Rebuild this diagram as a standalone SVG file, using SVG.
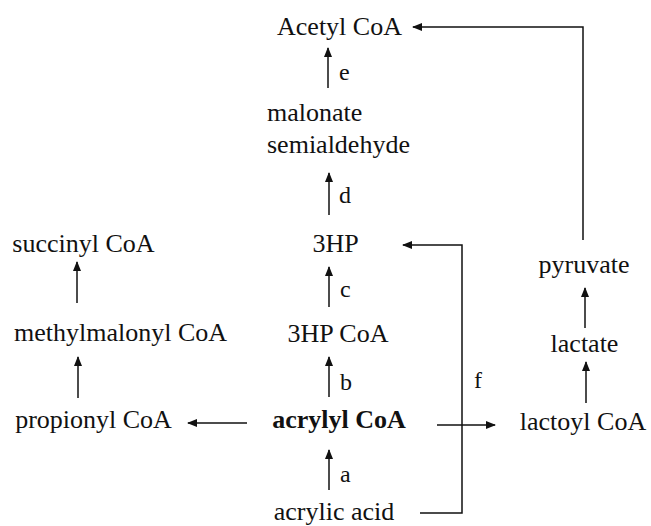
<svg xmlns="http://www.w3.org/2000/svg" width="651" height="526" viewBox="0 0 651 526">
<style>
.t{font-family:"Liberation Serif","Times New Roman",serif;font-size:26px;fill:#111;text-anchor:middle}
.b{font-weight:bold}
.l{font-family:"Liberation Serif","Times New Roman",serif;font-size:24px;fill:#111}
.c{fill:none;stroke:#111;stroke-width:1.5}
.a{marker-end:url(#ah)}
</style>
<defs>
<marker id="ah" viewBox="0 0 10 8" refX="9" refY="4" markerWidth="10" markerHeight="8" markerUnits="userSpaceOnUse" orient="auto">
<path d="M0,0 L10,4 L0,8 Z" fill="#111"/>
</marker>
</defs>
<rect width="651" height="526" fill="#fff"/>
<g id="acetylcoa"><text class="t" x="339.5" y="35">Acetyl CoA</text></g>
<g id="malonate"><text class="t" x="267" y="121" style="text-anchor:start">malonate</text><text class="t" x="267" y="153" style="text-anchor:start">semialdehyde</text></g>
<g id="hp3"><text class="t" x="335.5" y="252">3HP</text></g>
<g id="hp3coa"><text class="t" x="338" y="342">3HP CoA</text></g>
<g id="acrylylcoa"><text class="t b" x="339" y="428">acrylyl CoA</text></g>
<g id="acrylicacid"><text class="t" x="334" y="520">acrylic acid</text></g>
<g id="succinylcoa"><text class="t" x="83.5" y="252">succinyl CoA</text></g>
<g id="methylmalonylcoa"><text class="t" x="120.5" y="341">methylmalonyl CoA</text></g>
<g id="propionylcoa"><text class="t" x="93.5" y="428">propionyl CoA</text></g>
<g id="pyruvate"><text class="t" x="584" y="273">pyruvate</text></g>
<g id="lactate"><text class="t" x="584.5" y="352">lactate</text></g>
<g id="lactoylcoa"><text class="t" x="583" y="430">lactoyl CoA</text></g>
<g id="connectors">
<line class="c a" x1="329" y1="490" x2="329" y2="450"/>
<line class="c a" x1="329" y1="397" x2="329" y2="357"/>
<line class="c a" x1="329" y1="307" x2="329" y2="267"/>
<line class="c a" x1="329" y1="215" x2="329" y2="173"/>
<line class="c a" x1="328" y1="88" x2="328" y2="48"/>
<line class="c a" x1="77" y1="303" x2="77" y2="262"/>
<line class="c a" x1="78" y1="398" x2="78" y2="357"/>
<line class="c a" x1="247" y1="423" x2="188" y2="423"/>
<line class="c a" x1="586" y1="403" x2="586" y2="362"/>
<line class="c a" x1="585" y1="328" x2="585" y2="288"/>
<polyline class="c a" points="583,240 583,27 413,27"/>
<polyline class="c a" points="420,513 462,513 462,245 403,245"/>
<line class="c a" x1="437" y1="425" x2="495" y2="425"/>
<text class="l" x="339" y="80">e</text>
<text class="l" x="339" y="203">d</text>
<text class="l" x="340" y="297">c</text>
<text class="l" x="340" y="390">b</text>
<text class="l" x="340" y="482">a</text>
<text class="l" x="474" y="388">f</text>
</g>
</svg>
